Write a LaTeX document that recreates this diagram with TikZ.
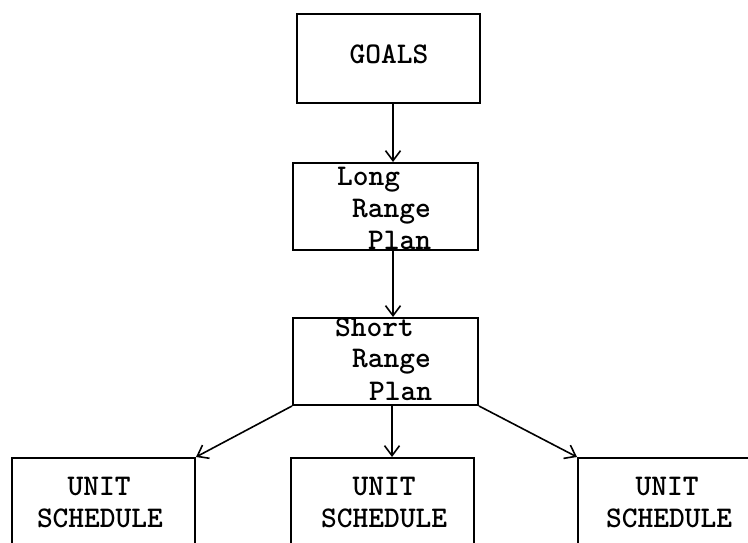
\documentclass[tikz,border=0pt]{standalone}
\usetikzlibrary{arrows.meta}
\begin{document}
\begin{tikzpicture}[x=1pt,y=-1pt,
  box/.style={draw, line width=2pt, rectangle, inner sep=0pt},
  lbl/.style={font=\fontsize{30}{32}\ttfamily\bfseries, inner sep=0pt},
  arr/.style={line width=1.6pt, -{Straight Barb[length=10pt,width=15pt,line width=1.6pt]}}]
\useasboundingbox (0,0) rectangle (748,543);
\clip (0,0) rectangle (748,543);

% boxes
\node[box, minimum width=183pt, minimum height=89pt] (goals) at (388.5,58.5) {};
\node[box, minimum width=185pt, minimum height=87pt] (long) at (385.5,206.5) {};
\node[box, minimum width=185pt, minimum height=87pt] (short) at (385.5,361.5) {};
\node[box, minimum width=183pt, minimum height=100pt] (unitL) at (103.5,508) {};
\node[box, minimum width=183pt, minimum height=100pt] (unitM) at (382.5,508) {};
\node[box, minimum width=183pt, minimum height=100pt] (unitR) at (669.5,508) {};

% texts
\node[lbl, anchor=base] (tGoals) at (389,64) {GOALS};
\node[lbl, anchor=base west] (tLong1) at (337,185) {Long};
\node[lbl, anchor=base west] (tLong2) at (352,217) {Range};
\node[lbl, anchor=base west] (tLong3) at (368,249) {Plan};
\node[lbl, anchor=base west] (tShort1) at (335,336) {Short};
\node[lbl, anchor=base west] (tShort2) at (352,367) {Range};
\node[lbl, anchor=base west] (tShort3) at (369,400) {Plan};
\node[lbl, anchor=base] (tUL1) at (99,495) {UNIT};
\node[lbl, anchor=base] (tUL2) at (100,527) {SCHEDULE};
\node[lbl, anchor=base] (tUM1) at (384,495) {UNIT};
\node[lbl, anchor=base] (tUM2) at (384,527) {SCHEDULE};
\node[lbl, anchor=base] (tUR1) at (667,495) {UNIT};
\node[lbl, anchor=base] (tUR2) at (669,527) {SCHEDULE};

% connectors
\coordinate (xa) at (393,0);
\coordinate (xb) at (392,0);
\draw[arr] (xa |- goals.south) -- (xa |- long.north);
\draw[arr] (xa |- long.south) -- (xa |- short.north);
\draw[arr] (xb |- short.south) -- (xb |- unitM.north);
\draw[arr] (short.south west) -- (unitL.north east);
\draw[arr] (short.south east) -- (unitR.north west);
\end{tikzpicture}
\end{document}
